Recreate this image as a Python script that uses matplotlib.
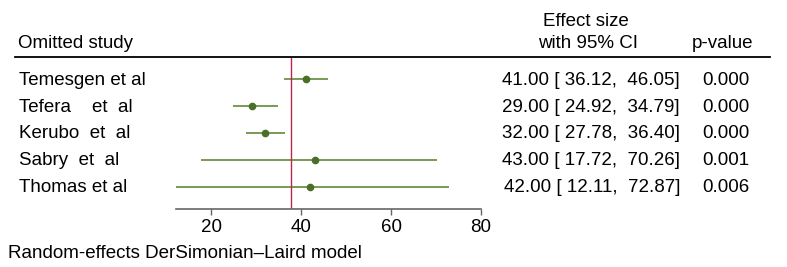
import matplotlib
matplotlib.use("Agg")
from matplotlib import pyplot

pyplot.rcParams['font.family'] = ['Liberation Sans', 'DejaVu Sans']

# leave-one-out meta-analysis
studies = ["Temesgen et al", "Tefera    et  al", "Kerubo  et  al", "Sabry  et  al", "Thomas et al"]
effect = [41.00, 29.00, 32.00, 43.00, 42.00]
ci_low = [36.12, 24.92, 27.78, 17.72, 12.11]
ci_high = [46.05, 34.79, 36.40, 70.26, 72.87]
pvals = [0.000, 0.000, 0.000, 0.001, 0.006]
overall = 37.84
xticks = [20, 40, 60, 80]

W, H = 787, 267
FS = 13.5
fig = pyplot.figure(figsize=(W / 100, H / 100), dpi=100)

def fx(px):
    return px / W

def fy(py):
    return 1 - py / H

# plot area: x from 175.5 to 481 px, y from 57 (header rule) to 209 (axis)
ax = fig.add_axes([fx(175.5), fy(209), fx(481) - fx(175.5), (209 - 57) / H])
rows = list(range(len(studies)))
ax.hlines(rows, ci_low, ci_high, color="#628a38", lw=1.2, zorder=2)
ax.plot(effect, rows, "o", color="#4a6f27", ms=4.5, zorder=3)
ax.axvline(overall, color="#c0244c", lw=1.0, zorder=2.5)
ax.set_xlim(min(ci_low), 80)
ax.set_ylim(4.8, -0.8)
ax.set_yticks([])
ax.set_xticks(xticks)
ax.tick_params(axis="x", direction="out", length=4, width=1, color="#666666",
               labelsize=FS, pad=3)
for s in ["top", "left", "right"]:
    ax.spines[s].set_visible(False)
ax.spines["bottom"].set_color("#666666")
ax.spines["bottom"].set_linewidth(1.2)
ax.patch.set_alpha(0)

# header
fig.text(fx(18), fy(44), "Omitted study", fontsize=FS, va="center", ha="left")
fig.text(fx(586), fy(22), "Effect size", fontsize=FS, va="center", ha="center")
fig.text(fx(588), fy(44), "with 95% CI", fontsize=FS, va="center", ha="center")
fig.text(fx(723), fy(44), "p-value", fontsize=FS, va="center", ha="center")
fig.add_artist(pyplot.Line2D([fx(15), fx(770)], [fy(57), fy(57)], color="black", lw=1.3))

# rows
row_y = [80, 107, 133, 160.5, 187]
for i, name in enumerate(studies):
    fig.text(fx(19), fy(row_y[i]), name, fontsize=FS, va="center", ha="left")
    es_txt = f"{effect[i]:.2f} [{ci_low[i]:6.2f}, {ci_high[i]:6.2f}]"
    fig.text(fx(680), fy(row_y[i]), es_txt, fontsize=FS, va="center", ha="right")
    fig.text(fx(726), fy(row_y[i]), f"{pvals[i]:.3f}", fontsize=FS, va="center", ha="center")

fig.text(fx(8), fy(253), "Random-effects DerSimonian\u2013Laird model", fontsize=FS,
         va="center", ha="left")

fig.savefig("out.png", dpi=100)
